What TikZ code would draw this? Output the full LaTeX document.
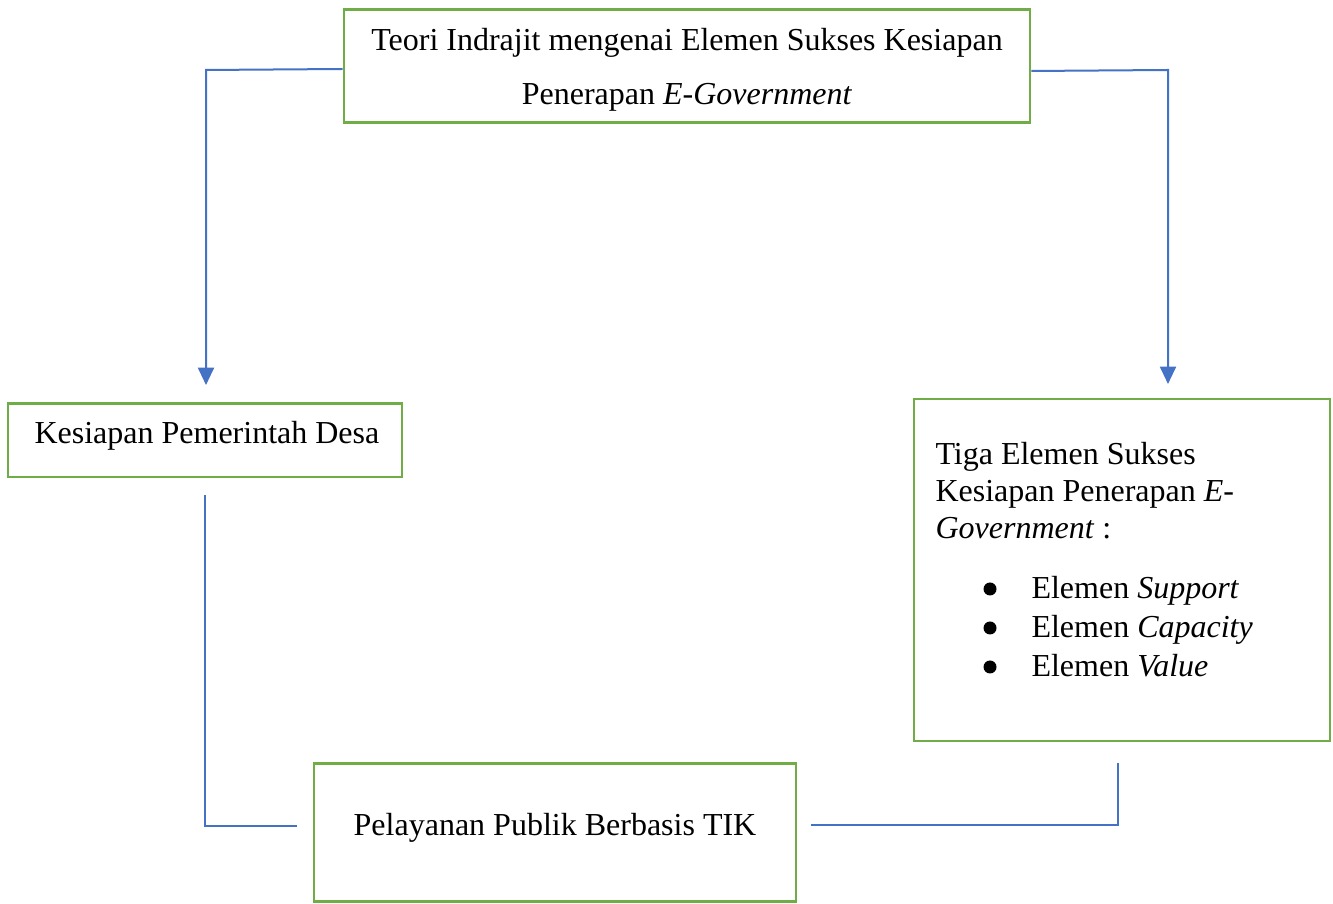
\documentclass[tikz,border=0pt]{standalone}
\usepackage{fontspec}
\setmainfont{Liberation Serif}
\usetikzlibrary{arrows.meta}
\definecolor{boxgreen}{HTML}{70AD47}
\definecolor{linkblue}{HTML}{4472C4}
\begin{document}
\begin{tikzpicture}[x=0.375pt,y=-0.375pt,
  box/.style={draw=boxgreen, line width=1.1pt, rectangle, inner sep=0pt},
  link/.style={draw=linkblue, line width=0.75pt},
  arrowlink/.style={link, -{Triangle[width=6pt,length=6.5pt]}},
  lbl/.style={font=\fontsize{12}{14}\selectfont, inner sep=0pt}]
\clip (0,0) rectangle (1333,904);
\fill[white] (0,0) rectangle (1333,904);
% boxes
\node[box, minimum width=257.25pt, minimum height=42.4pt] (top) at (687,66) {};
\node[box, minimum width=147.75pt, minimum height=27.4pt] (desa) at (205,440.5) {};
\node[box, minimum width=156pt, minimum height=128.25pt] (tiga) at (1122,570) {};
\node[box, minimum width=180.75pt, minimum height=52pt] (publik) at (555,832.5) {};
% texts
\node[lbl, anchor=base] (t1) at (687,51) {Teori Indrajit mengenai Elemen Sukses Kesiapan};
\node[lbl, anchor=base] (t2) at (687,105) {Penerapan \textit{E-Government}};
\node[lbl, anchor=base west] (d1) at (34,444) {Kesiapan Pemerintah Desa};
\node[lbl, anchor=base] (p1) at (555,836) {Pelayanan Publik Berbasis TIK};
\node[lbl, anchor=base west] (h1) at (935,465) {Tiga Elemen Sukses};
\node[lbl, anchor=base west] (h2) at (935,502) {Kesiapan Penerapan \textit{E-}};
\node[lbl, anchor=base west] (h3) at (935,539) {\textit{Government} :};
\node[lbl, anchor=base west] (b1) at (1031,599) {Elemen \textit{Support}};
\node[lbl, anchor=base west] (b2) at (1031,638) {Elemen \textit{Capacity}};
\node[lbl, anchor=base west] (b3) at (1031,677) {Elemen \textit{Value}};
\foreach \yy in {589,628,667} \fill (990,\yy) circle (6.5);
% connector ends
\coordinate (lc) at (206,70);
\coordinate (la) at (206,385);
\coordinate (rc) at (1168,70);
\coordinate (ra) at (1168,384);
\coordinate (ls) at (205,495);
\coordinate (lk) at (205,826);
\coordinate (le) at (297,826);
\coordinate (rs) at (811,825);
\coordinate (rk) at (1118,825);
\coordinate (re) at (1118,763);
% connectors
\draw[arrowlink] (top.west |- 0,69) -- (lc) -- (la);
\draw[arrowlink] (top.east |- 0,71) -- (rc) -- (ra);
\draw[link] (ls) -- (lk) -- (le);
\draw[link] (rs) -- (rk) -- (re);
\end{tikzpicture}
\end{document}
